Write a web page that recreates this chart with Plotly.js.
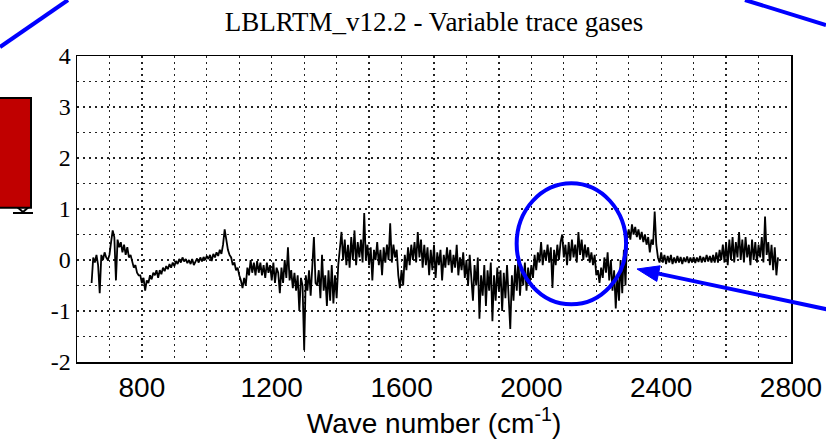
<!DOCTYPE html>
<html>
<head>
<meta charset="utf-8">
<script src="https://cdn.plot.ly/plotly-3.0.1.min.js"></script>
<style>html,body{margin:0;padding:0;background:#fff;}#chart{width:826px;height:442px;}</style>
</head>
<body>
<div id="chart"></div>
<script>
// Spectrum sampling: first wave number and spacing (cm-1)
var waveStart = 645;
var waveStep = 5;
// Brightness-temperature difference, one value per 5 cm-1
var deltaBT = [
 -0.45, 0.05, -0.05, 0.1, -0.1, -0.65, 0.1, 0.0, 0.15, 0.05,
 0.0, 0.1, 0.35, 0.58, 0.45, -0.4, 0.4, 0.25, 0.35, 0.15,
 0.3, 0.1, 0.25, 0.05, 0.1, -0.05, -0.15, -0.1, -0.25, -0.3,
 -0.3, -0.45, -0.35, -0.6, -0.4, -0.45, -0.3, -0.38, -0.25, -0.3,
 -0.2, -0.35, -0.2, -0.28, -0.15, -0.22, -0.12, -0.18, -0.08, -0.15,
 -0.05, -0.12, -0.02, -0.08, 0.02, -0.05, 0.05, -0.03, 0.02, -0.06,
 0.0, -0.08, 0.02, -0.1, -0.02, 0.03, -0.05, 0.05, -0.03, 0.06,
 0.0, 0.08, 0.02, 0.1, -0.02, 0.12, 0.05, 0.15, 0.08, 0.2,
 0.12, 0.3, 0.6, 0.35, 0.2, 0.1, 0.05, -0.1, -0.05, -0.2,
 -0.15, -0.3, -0.4, -0.55, -0.35, -0.5, -0.15, -0.3, 0.0, -0.25,
 -0.05, -0.3, -0.02, -0.25, -0.05, -0.3, -0.1, -0.35, -0.05, -0.25,
 -0.1, -0.4, -0.05, -0.45, -0.15, -0.25, -0.65, -0.15, -0.45, 0.0,
 -0.35, 0.25, -0.4, -0.2, -0.55, -0.25, -0.6, -0.3, -1.0, -0.35,
 -0.5, -1.77, -0.3, -0.6, -0.2, -0.7, 0.0, 0.45, -0.45, -0.5,
 -0.2, -0.75, 0.1, -0.6, -0.3, -0.9, -0.2, -0.8, -0.1, -0.85,
 -0.3, -0.75, -0.1, 0.2, 0.55, 0.0, 0.4, -0.1, 0.3, -0.15,
 0.45, 0.0, 0.58, -0.1, 0.35, 0.05, 0.4, -0.05, 0.92, 0.0,
 0.3, -0.1, 0.25, -0.4, 0.2, 0.0, 0.35, -0.1, 0.2, -0.3,
 0.25, -0.05, 0.3, 0.0, 0.72, -0.05, 0.3, 0.05, 0.2, -0.3,
 -0.55, -0.2, -0.5, 0.1, -0.2, 0.25, -0.1, 0.3, 0.0, 0.35,
 -0.05, 0.55, 0.05, 0.4, -0.15, 0.3, -0.1, 0.25, -0.3, 0.2,
 -0.2, 0.3, -0.35, 0.15, -0.1, 0.2, -0.4, 0.1, -0.15, 0.25,
 -0.1, 0.2, -0.25, 0.1, -0.15, 0.3, -0.3, 0.05, -0.2, 0.15,
 -0.35, 0.0, -0.5, 0.1, -0.3, -0.8, -0.1, -0.5, 0.05, -1.15,
 -0.3, -0.7, -0.1, -0.9, -0.2, -0.6, -0.05, -1.2, -0.3, -0.8,
 -0.15, -0.6, -0.2, -1.0, -0.25, -0.75, -0.1, -0.9, -1.35, -0.3,
 -0.8, -0.1, -0.6, 0.05, -0.7, -0.2, -0.5, -0.05, -0.6, -0.15,
 -0.45, -0.1, -0.35, 0.1, -0.2, 0.15, -0.05, 0.35, -0.1, 0.2,
 0.0, 0.3, -0.05, 0.25, -0.55, 0.2, -0.1, 0.3, 0.0, 0.35,
 0.5, 0.05, 0.3, -0.1, 0.35, 0.0, 0.4, 0.05, 0.3, -0.05,
 0.55, 0.1, 0.4, 0.0, 0.3, 0.05, 0.25, -0.05, 0.15, -0.1,
 0.1, -0.3, -0.2, -0.45, -0.15, -0.35, 0.05, -0.25, 0.15, -0.4,
 0.0, -0.6, -0.2, -0.95, -0.3, -0.8, 0.0, -0.65, 0.2, -0.5,
 0.45, 0.6, 0.4, 0.7, 0.5, 0.65, 0.45, 0.6, 0.4, 0.55,
 0.35, 0.5, 0.3, 0.45, 0.15, 0.4, 0.3, 0.95, 0.3, 0.05,
 -0.05, 0.15, -0.05, 0.1, -0.08, 0.08, -0.05, 0.1, -0.08, 0.05,
 -0.06, 0.08, -0.05, 0.06, -0.08, 0.05, -0.04, 0.07, -0.06, 0.05,
 -0.05, 0.06, -0.06, 0.05, -0.04, 0.08, -0.05, 0.06, -0.04, 0.1,
 -0.03, 0.08, -0.05, 0.1, -0.05, 0.15, -0.05, 0.2, 0.0, 0.3,
 -0.05, 0.35, -0.1, 0.4, 0.0, 0.45, -0.05, 0.35, 0.05, 0.55,
 0.0, 0.4, -0.05, 0.45, 0.05, 0.3, -0.1, 0.4, 0.0, 0.35,
 -0.05, 0.3, 0.05, 0.45, -0.05, 0.85, 0.1, 0.35, -0.1, 0.3,
 -0.2, 0.25, -0.3, 0.05
];
var xTickVals = [800, 1200, 1600, 2000, 2400, 2800];
var xTickText = ['800', '1200', '1600', '2000', '2400', '2800'];
var yTickVals = [-2, -1, 0, 1, 2, 3, 4];
var yTickText = ['-2', '-1', '0', '1', '2', '3', '4'];
var chartTitle = 'LBLRTM_v12.2 - Variable trace gases';
var xTitle = 'Wave number (cm<sup>-1</sup>)';

var blue = '#0000ff';
var gridCol = '#222';

var trace = {
  type: 'scatter',
  mode: 'lines',
  x0: waveStart,
  dx: waveStep,
  y: deltaBT,
  line: {color: '#000', width: 1.8},
  hoverinfo: 'skip'
};

var layout = {
  width: 826, height: 442,
  margin: {l: 77, r: 35, t: 56, b: 80},
  paper_bgcolor: '#fff', plot_bgcolor: '#fff',
  showlegend: false,
  title: {
    text: chartTitle,
    font: {family: 'Liberation Serif, Times New Roman, serif', size: 27, color: '#000'},
    xref: 'paper', x: 0.5, xanchor: 'center',
    yref: 'container', y: 0.951, yanchor: 'middle'
  },
  xaxis: {
    range: [600, 2800],
    tickvals: xTickVals, ticktext: xTickText,
    tickfont: {family: 'Liberation Sans, Arial, sans-serif', size: 28, color: '#000'},
    ticks: '',
    showgrid: true, gridcolor: gridCol, gridwidth: 1.3, griddash: '2px,4px',
    minor: {dtick: 100, tick0: 600, showgrid: true, gridcolor: gridCol, gridwidth: 1.3, griddash: '2px,4px'},
    zeroline: false,
    showline: true, mirror: true, linecolor: '#000', linewidth: 1.5,
    title: {text: xTitle, font: {family: 'Liberation Sans, Arial, sans-serif', size: 28, color: '#000'}, standoff: 8},
    automargin: false
  },
  yaxis: {
    range: [-2, 4],
    tickvals: yTickVals, ticktext: yTickText,
    tickfont: {family: 'Liberation Serif, Times New Roman, serif', size: 24, color: '#000'},
    ticks: '',
    showgrid: true, gridcolor: gridCol, gridwidth: 1.3, griddash: '2px,4px',
    minor: {dtick: 0.5, tick0: 0, showgrid: true, gridcolor: gridCol, gridwidth: 1.3, griddash: '2px,4px'},
    zeroline: false,
    showline: true, mirror: true, linecolor: '#000', linewidth: 1.5,
    automargin: false
  },
  shapes: [
    // partial rotated axis-label glyph under the red box
    {type: 'path', xref: 'paper', yref: 'paper', layer: 'above',
     path: 'M-0.08964,0.48693 L-0.06162,0.48693 M-0.07563,0.49020 L-0.08543,0.50980 M-0.07563,0.49020 L-0.06443,0.51307',
     line: {color: '#000', width: 2}},
    // red box
    {type: 'rect', xref: 'paper', yref: 'paper', layer: 'above',
     x0: -0.1106, x1: -0.06443, y0: 0.50425, y1: 0.86275,
     fillcolor: '#c00000', line: {color: '#000', width: 2}},
    // blue callout lines at the top corners
    {type: 'line', xref: 'paper', yref: 'paper', layer: 'above',
     x0: -0.10784, y0: 1.02941, x1: -0.012605, y1: 1.18301,
     line: {color: blue, width: 4}},
    {type: 'line', xref: 'paper', yref: 'paper', layer: 'above',
     x0: 0.93557, y0: 1.18301, x1: 1.04902, y1: 1.10131,
     line: {color: blue, width: 4}},
    // blue ellipse highlighting the CO band
    {type: 'circle', xref: 'x', yref: 'y', layer: 'above',
     x0: 1954.7, x1: 2291.8, y0: -0.869, y1: 1.504,
     line: {color: blue, width: 4}},
    // arrow shaft and head
    {type: 'line', xref: 'paper', yref: 'paper', layer: 'above',
     x0: 0.81443, y0: 0.28889, x1: 1.05462, y1: 0.16993,
     line: {color: blue, width: 4}},
    {type: 'path', xref: 'paper', yref: 'paper', layer: 'above',
     path: 'M0.78431,0.30392 L0.81204,0.26340 L0.81681,0.31438 Z',
     fillcolor: blue, line: {color: blue, width: 1}}
  ]
};

Plotly.newPlot('chart', [trace], layout, {displayModeBar: false, staticPlot: true});
</script>
</body>
</html>
